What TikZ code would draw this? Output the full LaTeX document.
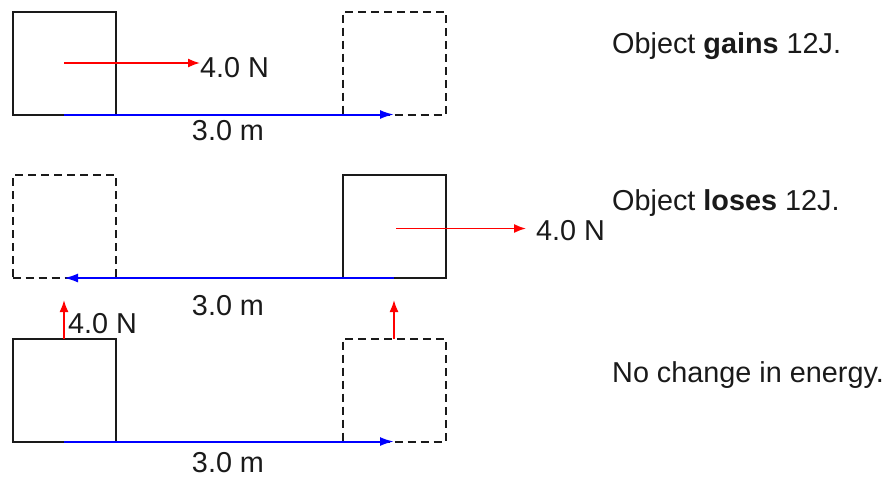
\documentclass[tikz,border=0pt]{standalone}
\usepackage{fontspec}
\setmainfont{Liberation Sans}
\usepackage{tikz}
\usetikzlibrary{calc,arrows.meta}
\definecolor{edge}{HTML}{1A1A1A}
\definecolor{force}{HTML}{FF0000}
\definecolor{dist}{HTML}{0000FF}

\begin{document}
\begin{tikzpicture}[x=1pt,y=-1pt,
  solidbox/.style={draw=edge,line width=2pt,minimum size=103pt,inner sep=0pt,outer sep=0pt},
  dashbox/.style={solidbox,dash pattern=on 8pt off 5pt},
  forcearrow/.style={force,line width=1.6pt,-{Latex[length=12pt,width=9pt]}},
  distarrow/.style={dist,line width=2pt,-{Latex[length=14pt,width=9pt]}},
  lbl/.style={inner sep=0pt,text=edge,font=\fontsize{28.8}{34}\selectfont}]
\useasboundingbox (0,0) rectangle (891,477);
% row 1: pushed along the motion
\node[solidbox] (b1) at (64,63) {};
\node[dashbox]  (g1) at (394,63) {};
\node[lbl,anchor=base west] (f1) at (200,77) {4.0 N};
\draw[forcearrow] (b1.center) -- (b1.center -| f1.west);
\draw[distarrow] (b1.south) -- (g1.south);
\node[lbl,anchor=base] (d1) at (228,140) {3.0 m};
\node[lbl,anchor=base west] (t1) at (612,53) {Object \textbf{gains} 12J.};
% row 2: pushed against the motion
\node[dashbox]  (g2) at (64,226.5) {};
\node[solidbox] (b2) at (394,226.5) {};
\node[lbl,anchor=base west] (f2) at (536,240) {4.0 N};
\coordinate (s2) at ($(b2.center)+(2,2)$);
\draw[forcearrow,shorten >=10pt] (s2) -- (s2 -| f2.west);
\draw[distarrow] (b2.south) -- (g2.south);
\node[lbl,anchor=base] (d2) at (228,315) {3.0 m};
\node[lbl,anchor=base west] (t2) at (612,210) {Object \textbf{loses} 12J.};
% row 3: pushed at right angles
\node[solidbox] (b3) at (64,390) {};
\node[dashbox]  (g3) at (394,390) {};
\coordinate (u3) at (64,300);
\coordinate (v3) at (394,300);
\draw[forcearrow] (b3.north) -- (u3);
\draw[forcearrow] (g3.north) -- (v3);
\node[lbl,anchor=base west] (f3) at (68,333) {4.0 N};
\draw[distarrow] (b3.south) -- (g3.south);
\node[lbl,anchor=base] (d3) at (228,472) {3.0 m};
\node[lbl,anchor=base west] (t3) at (612,382) {No change in energy.};
\end{tikzpicture}
\end{document}
